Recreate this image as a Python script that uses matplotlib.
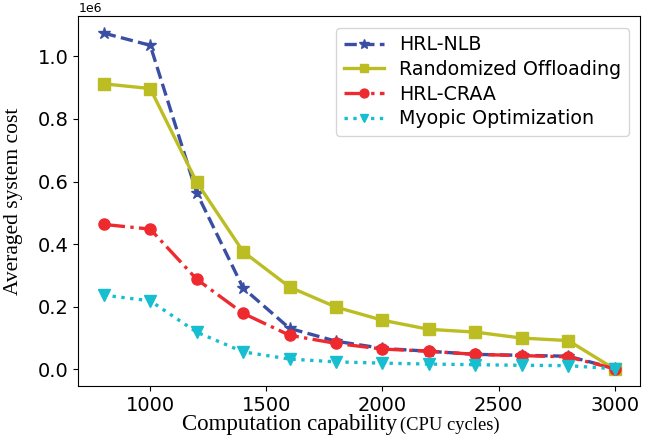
import matplotlib
matplotlib.use('Agg')
import matplotlib.pyplot as plt

# computation capability (CPU cycles)
cpuCycles = [800, 1000, 1200, 1400, 1600, 1800, 2000, 2200, 2400, 2600, 2800, 3000]

# averaged system cost
hrlNlb = [1.074e6, 1.035e6, 0.564e6, 0.260e6, 0.131e6, 0.090e6, 0.067e6, 0.058e6,
          0.048e6, 0.045e6, 0.042e6, 0.003e6]
randomOffload = [0.912e6, 0.897e6, 0.598e6, 0.376e6, 0.263e6, 0.199e6, 0.157e6, 0.128e6,
                 0.119e6, 0.100e6, 0.092e6, 0.001e6]
hrlCraa = [0.463e6, 0.448e6, 0.288e6, 0.179e6, 0.109e6, 0.083e6, 0.065e6, 0.058e6,
           0.048e6, 0.044e6, 0.040e6, 0.002e6]
myopicOpt = [0.237e6, 0.219e6, 0.119e6, 0.056e6, 0.033e6, 0.024e6, 0.020e6, 0.017e6,
             0.015e6, 0.013e6, 0.012e6, 0.002e6]

fig, ax = plt.subplots(figsize=(6.52, 4.41), dpi=100)

ax.plot(cpuCycles, hrlNlb, color='#3a4fa3', linestyle='--', linewidth=2.4,
        marker='*', markersize=9, label='HRL-NLB')
ax.plot(cpuCycles, randomOffload, color='#bcbd22', linestyle='-', linewidth=2.4,
        marker='s', markersize=8, label='Randomized Offloading')
ax.plot(cpuCycles, hrlCraa, color='#ee2a2f', linestyle='-.', linewidth=2.4,
        marker='o', markersize=8, label='HRL-CRAA')
ax.plot(cpuCycles, myopicOpt, color='#17becf', linestyle=':', linewidth=2.4,
        marker='v', markersize=8, label='Myopic Optimization')

ax.tick_params(axis='both', labelsize=14)
ax.yaxis.get_offset_text().set_fontsize(9)
ax.set_ylabel('Averaged system cost', fontsize=15.5, family='Liberation Serif')
ax.yaxis.set_label_coords(-0.098, 0.5)

# x label is two sizes, so place both parts by hand
fig.text(0.609, 0.025, 'Computation capability', fontsize=16.5,
         family='Liberation Serif', ha='right', va='baseline')
fig.text(0.613, 0.025, '(CPU cycles)', fontsize=13.3,
         family='Liberation Serif', ha='left', va='baseline')

ax.legend(loc='upper right', fontsize=13.7, handlelength=2.1,
          labelspacing=0.3, markerscale=0.8, borderaxespad=0.6)

fig.subplots_adjust(left=0.12, right=0.982, top=0.963, bottom=0.125)
fig.savefig('out.png', dpi=100)
